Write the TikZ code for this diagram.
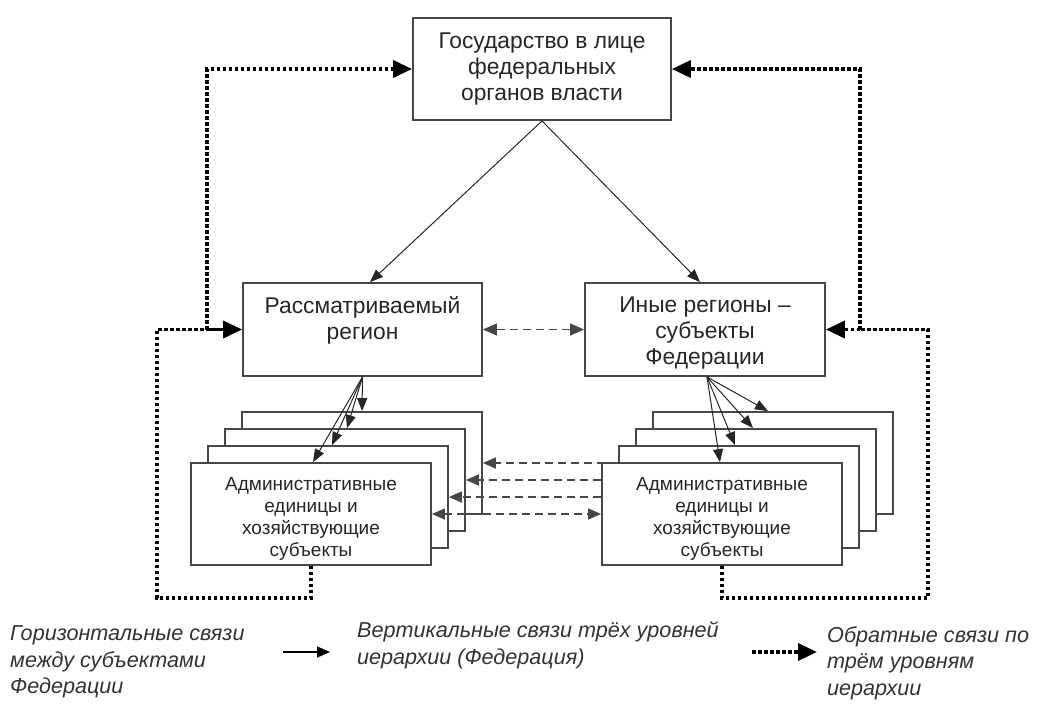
\documentclass[tikz,border=0pt]{standalone}
\usepackage{fontspec}
\setmainfont{Liberation Sans}
\usetikzlibrary{arrows.meta,calc}
\begin{document}
\begin{tikzpicture}[x=1pt,y=-1pt,
  box/.style={draw=black!72, line width=1.8pt, fill=white, inner sep=0pt,
              minimum width=#1},
  box/.default=240pt,
  bigtxt/.style={font=\fontsize{22.8}{26}\selectfont, align=center, text=black!85, inner sep=0pt},
  admtxt/.style={font=\fontsize{19}{22}\selectfont, align=center, text=black!85, inner sep=0pt},
  vert/.style={line width=1pt, draw=black!85, -{Triangle[length=13pt,width=10pt]}},
  horiz/.style={line width=1.7pt, draw=black!72, dash pattern=on 8pt off 5pt,
                -{Triangle[length=13pt,width=11pt]}},
  fb/.style={line width=3.5pt, dash pattern=on 3.5pt off 2.5pt, draw=black},
  fbtip/.style={-{Triangle[length=19pt,width=17pt]}},
  legtxt/.style={font=\fontsize{21.6}{26.5}\selectfont\itshape, align=left, anchor=west,
                 text=black!80, inner sep=0pt}
]
\fill[white] (0,0) rectangle (1037,716);
\useasboundingbox (0,0) rectangle (1037,716);

% top box
\node[box=258pt, minimum height=102pt, bigtxt] (top) at (542,69)
  {Государство в лице\\федеральных\\органов власти};

% region boxes
\node[box=239pt, minimum height=93pt] (lreg) at (362.5,329.5) {};
\node[bigtxt] (lregtxt) at ($(lreg.center)+(0,-9.5)$) {Рассматриваемый\\регион};
\node[box=240pt, minimum height=93pt] (rreg) at (705,329.5) {};
\node[bigtxt] (rregtxt) at ($(rreg.center)+(0,3.5)$) {Иные регионы –\\субъекты\\Федерации};

% left stack
\node[box, minimum height=102pt] (lb4) at (362,463) {};
\node[box, minimum height=102pt] (lb3) at (345,480) {};
\node[box, minimum height=102pt] (lb2) at (328,497) {};
\node[box, minimum height=102pt] (lb1) at (311,514) {};
\node[admtxt] (lb1txt) at ($(lb1.center)+(0,5)$)
  {Административные\\единицы и\\хозяйствующие\\субъекты};

% right stack
\node[box, minimum height=102pt] (rb4) at (773,463) {};
\node[box, minimum height=102pt] (rb3) at (756,480) {};
\node[box, minimum height=102pt] (rb2) at (739,497) {};
\node[box, minimum height=102pt] (rb1) at (722,514) {};
\node[admtxt] (rb1txt) at ($(rb1.center)+(0,5)$)
  {Административные\\единицы и\\хозяйствующие\\субъекты};

% vertical links
\draw[vert] (top.south) -- ([xshift=7.5pt]lreg.north);
\draw[vert] (top.south) -- ([xshift=-5pt]rreg.north);

\coordinate (lo) at (lreg.south);
\draw[vert] (lo) -- (lb4.north);
\draw[vert] (lo) -- ([xshift=2pt]lb3.north);
\draw[vert] (lo) -- ([xshift=4pt]lb2.north);
\draw[vert] (lo) -- ([xshift=2pt]lb1.north);

\coordinate (ro) at ([xshift=2pt]rreg.south);
\draw[vert] (ro) -- ([xshift=-2pt]rb1.north);
\draw[vert] (ro) -- ([xshift=-4pt]rb2.north);
\draw[vert] (ro) -- ([xshift=-3pt]rb3.north);
\draw[vert] (ro) -- ([xshift=-5pt]rb4.north);

% horizontal links
\draw[horiz, line width=1.4pt, {Triangle[length=14pt,width=12pt]}-{Triangle[length=14pt,width=12pt]}]
  (lreg.east) -- (rreg.west);
\draw[horiz] (rb4.center -| rb2.west) -- (lb4.east);
\draw[horiz] (lb3.east -| rb1.west) -- (lb3.east);
\draw[horiz] (lb2.east -| rb1.west) -- (lb2.east);
\draw[horiz, {Triangle[length=13pt,width=11pt]}-{Triangle[length=13pt,width=11pt]}]
  (lb1.east) -- (rb1.west);

% feedback links
\coordinate (cl) at (157,598);
\coordinate (jl) at (207,329.5);
\coordinate (cr) at (928,598);
\coordinate (jr) at (860,329.5);
\draw[fb] (lb1.south) |- (cl) |- (jl);
\draw[fb, fbtip] (jl) |- (top.west);
\draw[line width=3.5pt, fbtip] (jl) -- (lreg.west);
\draw[fb] (rb1.south) |- (cr) |- (jr);
\draw[fb, fbtip] (jr) |- (top.east);
\draw[fb, fbtip] (jr) -- (rreg.east);

% legend
\node[legtxt] (leg1) at (10,662) {Горизонтальные связи\\между субъектами\\Федерации};
\coordinate (l1a) at (283,652);
\coordinate (l1b) at (330,652);
\draw[line width=1.3pt, -{Triangle[length=13pt,width=11pt]}] (l1a) -- (l1b);
\node[legtxt] (leg2) at (357,645) {Вертикальные связи трёх уровней\\иерархии (Федерация)};
\coordinate (l2a) at (752,652);
\coordinate (l2b) at (817,652);
\draw[fb, fbtip] (l2a) -- (l2b);
\node[legtxt] (leg3) at (827,663) {Обратные связи по\\трём уровням\\иерархии};
\end{tikzpicture}
\end{document}
